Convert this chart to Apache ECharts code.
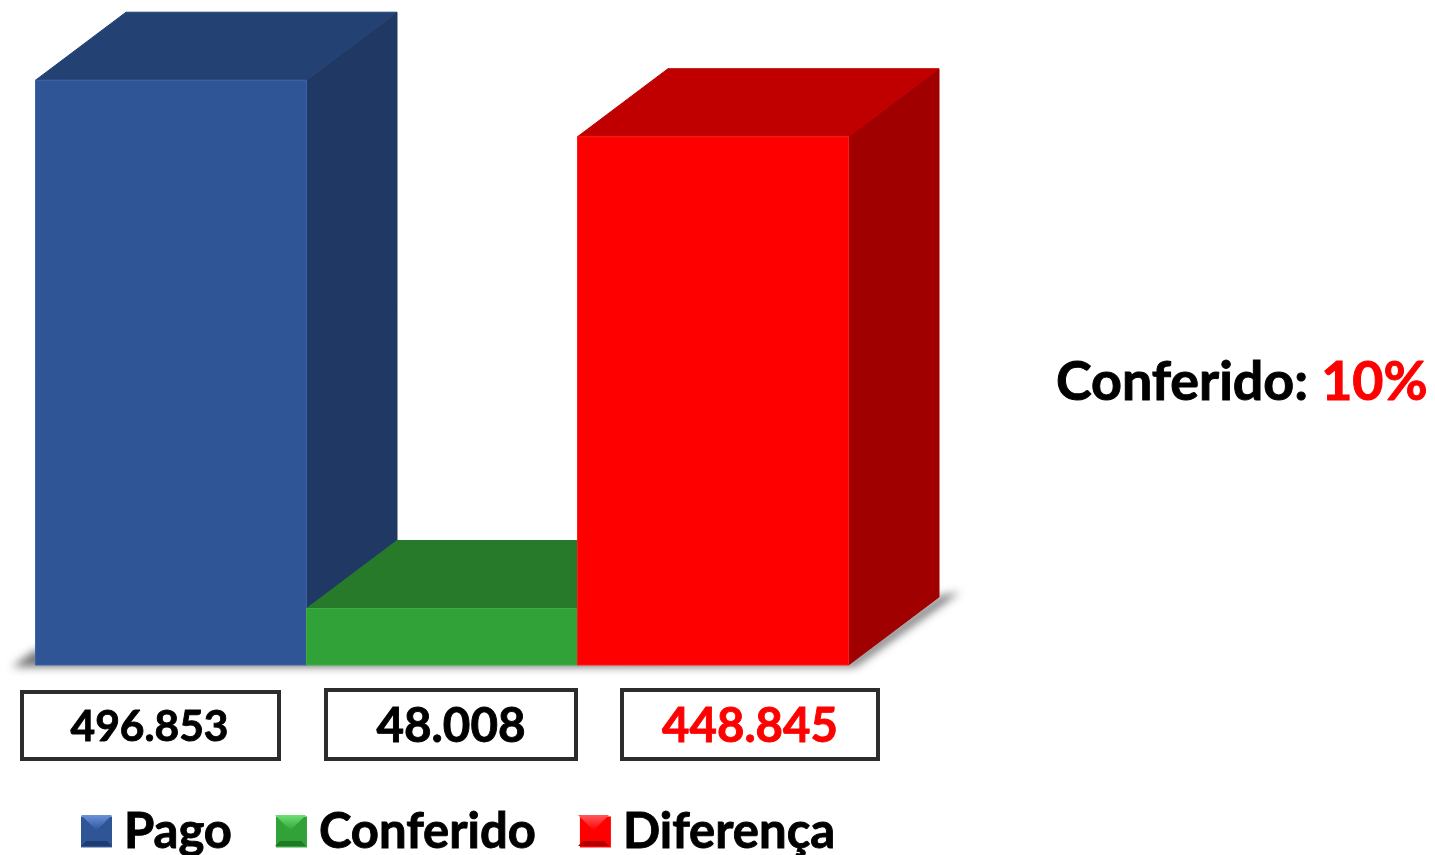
<!DOCTYPE html>
<html><head><meta charset="utf-8">
<style>html,body{margin:0;padding:0;background:#fff}#c{width:1435px;height:855px}</style>
<script src="https://cdn.jsdelivr.net/npm/echarts@6/dist/echarts.min.js"></script>
</head><body><div id="c"></div>
<script>
const categories = ['Pago', 'Conferido', 'Diferença'];
const values = [496853, 48008, 448845];
const valueLabels = ['496.853', '48.008', '448.845'];
const annotationLabel = 'Conferido: ';
const annotationValue = '10%';
const faceColors = ['#2F5597', '#31A238', '#FF0000'];
const topColors = ['#244173', '#267A2A', '#C00000'];
const sideColors = ['#1F3864', '#1F6324', '#A00000'];
const edgeColors = ['#3A64AA', '#3DB043', '#FF1A1A'];
const bevelTop = ['#6A93DC', '#6FE074', '#FF5A5A'];
const bevelBottom = ['#1F3C70', '#1E7A25', '#B00000'];
const labelColors = ['#000', '#000', '#F00'];
const labelSizes = [42.5, 47.5, 47.3];
const FONT = 'Lato';
const DX = 90.5, DY = -68;

function renderBar(params, api) {
  const i = api.value(0);
  const top = api.coord([i, api.value(1)]);
  const base = api.coord([i, 0]);
  const w = api.size([1, 0])[0];
  const l = top[0] - w / 2, r = top[0] + w / 2;
  const poly = (pts, fill, stroke) => ({
    type: 'polygon', shape: { points: pts },
    style: { fill, stroke: stroke || fill, lineWidth: 1 }
  });
  return { type: 'group', children: [
    poly([[r, base[1]], [r + DX, base[1] + DY], [r + DX, top[1] + DY], [r, top[1]]], sideColors[i]),
    poly([[l, top[1]], [l + DX, top[1] + DY], [r + DX, top[1] + DY], [r, top[1]]], topColors[i]),
    poly([[l, top[1]], [r, top[1]], [r, base[1]], [l, base[1]]], faceColors[i], edgeColors[i])
  ]};
}

const boxes = [[22, 692, 257, 67], [326, 690, 250, 69], [622, 690, 256, 69]];
const markers = [81, 275, 578];
const graphics = [];
graphics.push({ type: 'polygon', z: 0, silent: true,
  shape: { points: [[-1988, 667], [-1965, 650], [-1150, 660], [-1060, 596], [-1040, 592], [-1145, 667]] },
  style: { fill: '#777', shadowColor: 'rgba(105,105,105,0.9)', shadowBlur: 9, shadowOffsetX: 2000 } });
boxes.forEach((b, i) => {
  graphics.push({ type: 'rect', z: 5, shape: { x: b[0], y: b[1], width: b[2], height: b[3] },
    style: { fill: '#fff', stroke: '#2C2C2C', lineWidth: 4 } });
  graphics.push({ type: 'text', z: 6, x: b[0] + b[2] / 2 - (i === 0 ? 1 : 0), y: 727,
    style: { text: valueLabels[i], fill: labelColors[i], stroke: labelColors[i], lineWidth: 0.9,
      font: 'bold ' + labelSizes[i] + 'px ' + FONT, align: 'center', verticalAlign: 'middle' } });
});
markers.forEach((x, i) => {
  const y = 815, s = 31, t = 5;
  const p = (pts, fill) => graphics.push({ type: 'polygon', z: 20, silent: true, shape: { points: pts }, style: { fill } });
  p([[x, y], [x + s, y], [x + s / 2, y + s / 2]], {
    type: 'linear', x: 0, y: 0, x2: 0, y2: 1,
    colorStops: [{ offset: 0, color: bevelTop[i] }, { offset: 1, color: faceColors[i] }]
  });
  p([[x, y + s], [x + s, y + s], [x + s - t, y + s - t], [x + t, y + s - t]], bevelBottom[i]);
});
graphics.push({ type: 'text', z: 6, x: 1056, y: 383,
  style: {
    text: '{a|' + annotationLabel + '}{b|' + annotationValue + '}',
    verticalAlign: 'middle', stroke: '#000',
    rich: {
      a: { font: 'bold 53.8px ' + FONT, fill: '#000', stroke: '#000', lineWidth: 1 },
      b: { font: 'bold 53.8px ' + FONT, fill: '#F00', stroke: '#F00', lineWidth: 1 }
    }
  } });

const chart = echarts.init(document.getElementById('c'), null, { renderer: 'canvas' });
chart.setOption({
  animation: false,
  backgroundColor: '#fff',
  grid: { left: 35.5, top: 0, width: 813, bottom: 190, containLabel: false },
  xAxis: { type: 'category', data: categories, show: false },
  yAxis: { type: 'value', min: 0, max: 565000, show: false },
  legend: {
    left: 81, top: 807, padding: 0, icon: 'rect', itemWidth: 31, itemHeight: 31, itemGap: 43.5,
    selectedMode: false, data: categories,
    formatter: '{t|{name}}',
    textStyle: { rich: { t: {
      fontFamily: FONT, fontWeight: 'bold', fontSize: 49, color: '#000', padding: [0, 0, 0, 7],
      textBorderColor: '#000', textBorderWidth: 0.9
    } } }
  },
  graphic: { elements: graphics },
  series: categories.map((name, i) => ({
    type: 'custom', name, clip: false, z: 2,
    itemStyle: { color: faceColors[i] },
    encode: { x: 0, y: 1 },
    data: [[i, values[i]]],
    renderItem: renderBar
  }))
});
</script></body></html>
